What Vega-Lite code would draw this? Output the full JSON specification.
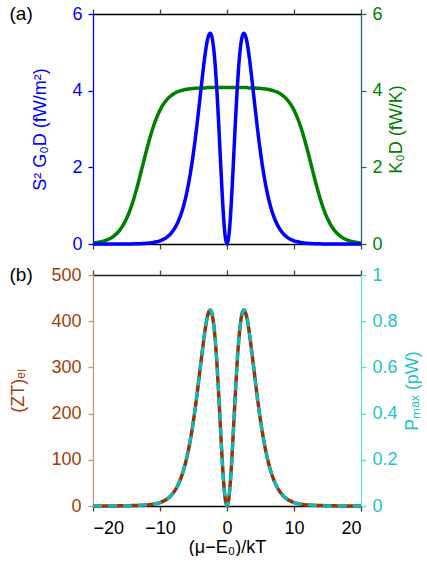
{
  "$schema": "https://vega.github.io/schema/vega-lite/v6.json",
  "padding": {"left": 9, "top": 5, "right": 0, "bottom": 0},
  "config": {
    "font": "Liberation Sans",
    "view": {"stroke": null},
    "axis": {"labelFont": "Liberation Sans", "titleFont": "Liberation Sans", "labelFontSize": 18, "titleFontSize": 18, "titleFontWeight": "normal", "tickSize": 5, "grid": false, "labelPadding": 6, "domainWidth": 1.3, "tickWidth": 1.3},
    "concat": {"spacing": 13}
  },
  "datasets": {
    "d": [
      {"x": -20, "S2G": 0, "K": 0.026, "ZT": 0, "P": 0},
      {"x": -19, "S2G": 0, "K": 0.05, "ZT": 0.05, "P": 0},
      {"x": -18, "S2G": 0, "K": 0.099, "ZT": 0.1, "P": 0},
      {"x": -17, "S2G": 0, "K": 0.191, "ZT": 0.2, "P": 0},
      {"x": -16, "S2G": 0, "K": 0.362, "ZT": 0.3, "P": 0.001},
      {"x": -15, "S2G": 0.001, "K": 0.661, "ZT": 0.5, "P": 0.001},
      {"x": -14.5, "S2G": 0.002, "K": 0.873, "ZT": 0.7, "P": 0.001},
      {"x": -14, "S2G": 0.004, "K": 1.13, "ZT": 1.0, "P": 0.002},
      {"x": -13.5, "S2G": 0.005, "K": 1.431, "ZT": 1.1, "P": 0.002},
      {"x": -13, "S2G": 0.008, "K": 1.762, "ZT": 1.4, "P": 0.003},
      {"x": -12.5, "S2G": 0.013, "K": 2.11, "ZT": 1.9, "P": 0.004},
      {"x": -12, "S2G": 0.018, "K": 2.453, "ZT": 2.3, "P": 0.005},
      {"x": -11.5, "S2G": 0.026, "K": 2.774, "ZT": 2.9, "P": 0.006},
      {"x": -11, "S2G": 0.039, "K": 3.058, "ZT": 4.0, "P": 0.008},
      {"x": -10.5, "S2G": 0.057, "K": 3.297, "ZT": 5.4, "P": 0.011},
      {"x": -10, "S2G": 0.083, "K": 3.492, "ZT": 7.5, "P": 0.015},
      {"x": -9.5, "S2G": 0.121, "K": 3.644, "ZT": 10.4, "P": 0.021},
      {"x": -9, "S2G": 0.174, "K": 3.761, "ZT": 14.6, "P": 0.029},
      {"x": -8.5, "S2G": 0.25, "K": 3.848, "ZT": 20.4, "P": 0.041},
      {"x": -8, "S2G": 0.357, "K": 3.913, "ZT": 28.7, "P": 0.057},
      {"x": -7.5, "S2G": 0.505, "K": 3.96, "ZT": 40.1, "P": 0.08},
      {"x": -7, "S2G": 0.707, "K": 3.994, "ZT": 55.7, "P": 0.111},
      {"x": -6.5, "S2G": 0.979, "K": 4.018, "ZT": 76.6, "P": 0.153},
      {"x": -6, "S2G": 1.342, "K": 4.036, "ZT": 104.6, "P": 0.209},
      {"x": -5.5, "S2G": 1.806, "K": 4.049, "ZT": 140.4, "P": 0.281},
      {"x": -5, "S2G": 2.387, "K": 4.058, "ZT": 185.0, "P": 0.37},
      {"x": -4.5, "S2G": 3.081, "K": 4.066, "ZT": 238.3, "P": 0.477},
      {"x": -4, "S2G": 3.854, "K": 4.07, "ZT": 298.0, "P": 0.596},
      {"x": -3.75, "S2G": 4.248, "K": 4.07, "ZT": 327.5, "P": 0.655},
      {"x": -3.5, "S2G": 4.628, "K": 4.07, "ZT": 356.8, "P": 0.714},
      {"x": -3.25, "S2G": 4.97, "K": 4.07, "ZT": 383.2, "P": 0.766},
      {"x": -3, "S2G": 5.252, "K": 4.08, "ZT": 404.9, "P": 0.81},
      {"x": -2.75, "S2G": 5.438, "K": 4.08, "ZT": 419.3, "P": 0.839},
      {"x": -2.5, "S2G": 5.501, "K": 4.08, "ZT": 424.1, "P": 0.848},
      {"x": -2.25, "S2G": 5.405, "K": 4.08, "ZT": 416.7, "P": 0.833},
      {"x": -2, "S2G": 5.124, "K": 4.08, "ZT": 395.1, "P": 0.79},
      {"x": -1.75, "S2G": 4.649, "K": 4.08, "ZT": 358.4, "P": 0.717},
      {"x": -1.5, "S2G": 3.981, "K": 4.08, "ZT": 306.9, "P": 0.614},
      {"x": -1.25, "S2G": 3.172, "K": 4.08, "ZT": 244.6, "P": 0.489},
      {"x": -1, "S2G": 2.282, "K": 4.08, "ZT": 175.9, "P": 0.352},
      {"x": -0.75, "S2G": 1.41, "K": 4.08, "ZT": 108.7, "P": 0.217},
      {"x": -0.5, "S2G": 0.671, "K": 4.08, "ZT": 51.7, "P": 0.103},
      {"x": -0.25, "S2G": 0.175, "K": 4.08, "ZT": 13.5, "P": 0.027},
      {"x": 0, "S2G": 0, "K": 4.08, "ZT": 0, "P": 0},
      {"x": 0.25, "S2G": 0.175, "K": 4.08, "ZT": 13.5, "P": 0.027},
      {"x": 0.5, "S2G": 0.671, "K": 4.08, "ZT": 51.7, "P": 0.103},
      {"x": 0.75, "S2G": 1.41, "K": 4.08, "ZT": 108.7, "P": 0.217},
      {"x": 1, "S2G": 2.282, "K": 4.08, "ZT": 175.9, "P": 0.352},
      {"x": 1.25, "S2G": 3.172, "K": 4.08, "ZT": 244.6, "P": 0.489},
      {"x": 1.5, "S2G": 3.981, "K": 4.08, "ZT": 306.9, "P": 0.614},
      {"x": 1.75, "S2G": 4.649, "K": 4.08, "ZT": 358.4, "P": 0.717},
      {"x": 2, "S2G": 5.124, "K": 4.08, "ZT": 395.1, "P": 0.79},
      {"x": 2.25, "S2G": 5.405, "K": 4.08, "ZT": 416.7, "P": 0.833},
      {"x": 2.5, "S2G": 5.501, "K": 4.08, "ZT": 424.1, "P": 0.848},
      {"x": 2.75, "S2G": 5.438, "K": 4.08, "ZT": 419.3, "P": 0.839},
      {"x": 3, "S2G": 5.252, "K": 4.08, "ZT": 404.9, "P": 0.81},
      {"x": 3.25, "S2G": 4.97, "K": 4.07, "ZT": 383.2, "P": 0.766},
      {"x": 3.5, "S2G": 4.628, "K": 4.07, "ZT": 356.8, "P": 0.714},
      {"x": 3.75, "S2G": 4.248, "K": 4.07, "ZT": 327.5, "P": 0.655},
      {"x": 4, "S2G": 3.854, "K": 4.07, "ZT": 298.0, "P": 0.596},
      {"x": 4.5, "S2G": 3.081, "K": 4.066, "ZT": 238.3, "P": 0.477},
      {"x": 5, "S2G": 2.387, "K": 4.058, "ZT": 185.0, "P": 0.37},
      {"x": 5.5, "S2G": 1.806, "K": 4.049, "ZT": 140.4, "P": 0.281},
      {"x": 6, "S2G": 1.342, "K": 4.036, "ZT": 104.6, "P": 0.209},
      {"x": 6.5, "S2G": 0.979, "K": 4.018, "ZT": 76.6, "P": 0.153},
      {"x": 7, "S2G": 0.707, "K": 3.994, "ZT": 55.7, "P": 0.111},
      {"x": 7.5, "S2G": 0.505, "K": 3.96, "ZT": 40.1, "P": 0.08},
      {"x": 8, "S2G": 0.357, "K": 3.913, "ZT": 28.7, "P": 0.057},
      {"x": 8.5, "S2G": 0.25, "K": 3.848, "ZT": 20.4, "P": 0.041},
      {"x": 9, "S2G": 0.174, "K": 3.761, "ZT": 14.6, "P": 0.029},
      {"x": 9.5, "S2G": 0.121, "K": 3.644, "ZT": 10.4, "P": 0.021},
      {"x": 10, "S2G": 0.083, "K": 3.492, "ZT": 7.5, "P": 0.015},
      {"x": 10.5, "S2G": 0.057, "K": 3.297, "ZT": 5.4, "P": 0.011},
      {"x": 11, "S2G": 0.039, "K": 3.058, "ZT": 4.0, "P": 0.008},
      {"x": 11.5, "S2G": 0.026, "K": 2.774, "ZT": 2.9, "P": 0.006},
      {"x": 12, "S2G": 0.018, "K": 2.453, "ZT": 2.3, "P": 0.005},
      {"x": 12.5, "S2G": 0.013, "K": 2.11, "ZT": 1.9, "P": 0.004},
      {"x": 13, "S2G": 0.008, "K": 1.762, "ZT": 1.4, "P": 0.003},
      {"x": 13.5, "S2G": 0.005, "K": 1.431, "ZT": 1.1, "P": 0.002},
      {"x": 14, "S2G": 0.004, "K": 1.13, "ZT": 1.0, "P": 0.002},
      {"x": 14.5, "S2G": 0.002, "K": 0.873, "ZT": 0.7, "P": 0.001},
      {"x": 15, "S2G": 0.001, "K": 0.661, "ZT": 0.5, "P": 0.001},
      {"x": 16, "S2G": 0, "K": 0.362, "ZT": 0.3, "P": 0.001},
      {"x": 17, "S2G": 0, "K": 0.191, "ZT": 0.2, "P": 0},
      {"x": 18, "S2G": 0, "K": 0.099, "ZT": 0.1, "P": 0},
      {"x": 19, "S2G": 0, "K": 0.05, "ZT": 0.05, "P": 0},
      {"x": 20, "S2G": 0, "K": 0.026, "ZT": 0, "P": 0}
    ]
  },
  "vconcat": [
    {
      "width": 268,
      "height": 230,
      "title": {"text": "(a)", "orient": "left", "anchor": "end", "frame": "group", "angle": 0, "align": "right", "baseline": "middle", "offset": -24, "fontSize": 19, "fontWeight": "normal", "color": "black", "font": "Liberation Sans"},
      "data": {"name": "d"},
      "layer": [
        {
          "mark": {"type": "line", "color": "#008000", "strokeWidth": 3.5, "interpolate": "monotone"},
          "encoding": {
            "x": {"field": "x", "type": "quantitative", "scale": {"domain": [-20, 20], "nice": false},
              "axis": {"orient": "bottom", "values": [-20, -10, 0, 10, 20], "labels": false, "title": null, "domainColor": "#000000", "tickColor": "#444444"}},
            "y": {"field": "K", "type": "quantitative", "scale": {"domain": [0, 6], "nice": false},
              "axis": {"orient": "right", "values": [0, 2, 4, 6], "title": "K₀D  (fW/K)", "titleColor": "#008000", "labelColor": "#008000", "domainColor": "#226b73", "tickColor": "#226b73", "titleAngle": 270, "titleBaseline": "top", "titlePadding": 5}}
          }
        },
        {
          "mark": {"type": "line", "color": "#0000ff", "strokeWidth": 3.5, "interpolate": "monotone"},
          "encoding": {
            "x": {"field": "x", "type": "quantitative", "scale": {"domain": [-20, 20], "nice": false},
              "axis": {"orient": "top", "values": [-20, -10, 0, 10, 20], "labels": false, "title": null, "domainColor": "#000000", "tickColor": "#444444"}},
            "y": {"field": "S2G", "type": "quantitative", "scale": {"domain": [0, 6], "nice": false},
              "axis": {"orient": "left", "values": [0, 2, 4, 6], "title": "S² G₀D  (fW/m²)", "titleColor": "#0000ff", "labelColor": "#0000ff", "domainColor": "#0000ff", "tickColor": "#0000ff", "titlePadding": 22}}
          }
        }
      ],
      "resolve": {"scale": {"y": "independent"}, "axis": {"x": "independent"}}
    },
    {
      "width": 268,
      "height": 231,
      "title": {"text": "(b)", "orient": "left", "anchor": "end", "frame": "group", "angle": 0, "align": "right", "baseline": "middle", "offset": -46, "fontSize": 19, "fontWeight": "normal", "color": "black", "font": "Liberation Sans"},
      "data": {"name": "d"},
      "layer": [
        {
          "mark": {"type": "line", "color": "#993300", "strokeWidth": 3.5, "interpolate": "monotone"},
          "encoding": {
            "x": {"field": "x", "type": "quantitative", "scale": {"domain": [-20, 20], "nice": false},
              "axis": {"orient": "bottom", "values": [-20, -10, 0, 10, 20], "title": "(μ−E₀)/kT", "labelColor": "#000000", "titleColor": "#000000", "domainColor": "#000000", "tickColor": "#444444", "labelPadding": 8, "titlePadding": 1}},
            "y": {"field": "ZT", "type": "quantitative", "scale": {"domain": [0, 500], "nice": false},
              "axis": {"orient": "left", "values": [0, 100, 200, 300, 400, 500], "title": "(ZT)ₑₗ", "titleColor": "#a0400a", "labelColor": "#a0400a", "domainColor": "#c8967a", "tickColor": "#c8967a", "labelPadding": 7, "titlePadding": 23}}
          }
        },
        {
          "mark": {"type": "line", "color": "#00bfbf", "strokeWidth": 3, "strokeDash": [9, 6], "interpolate": "monotone"},
          "encoding": {
            "x": {"field": "x", "type": "quantitative", "scale": {"domain": [-20, 20], "nice": false},
              "axis": {"orient": "top", "values": [-20, -10, 0, 10, 20], "labels": false, "title": null, "domainColor": "#222222", "tickColor": "#444444"}},
            "y": {"field": "P", "type": "quantitative", "scale": {"domain": [0, 1], "nice": false},
              "axis": {"orient": "right", "values": [0, 0.2, 0.4, 0.6, 0.8, 1], "format": "~g", "title": "Pₘₐₓ (pW)", "titleColor": "#22c4c4", "labelColor": "#22c4c4", "domainColor": "#66dddd", "tickColor": "#66dddd", "titleAngle": 270, "titleBaseline": "top", "titlePadding": 6}}
          }
        }
      ],
      "resolve": {"scale": {"y": "independent"}, "axis": {"x": "independent"}}
    }
  ]
}
